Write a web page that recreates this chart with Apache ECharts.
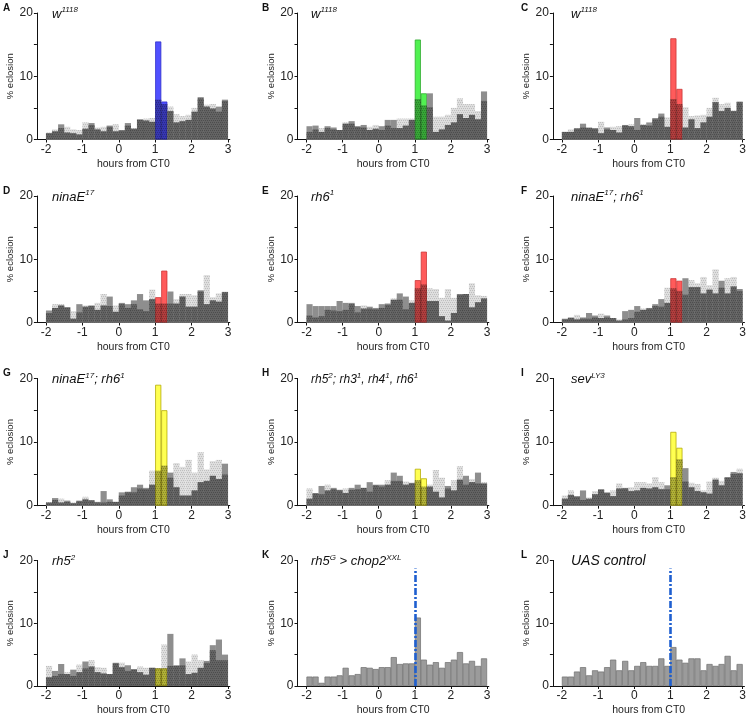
<!DOCTYPE html>
<html><head><meta charset="utf-8">
<script src="https://cdn.jsdelivr.net/npm/echarts@6/dist/echarts.min.js"></script>
<style>html,body{margin:0;padding:0;background:#fff}#c{width:749px;height:717px}</style>
</head><body><div id="c"></div>
<script>
// 10-min bins, start minute relative to CT0
const binStartMin = [-120,-110,-100,-90,-80,-70,-60,-50,-40,-30,-20,-10,0,10,20,30,40,50,60,70,80,90,100,110,120,130,140,150,160,170];
const xTickLabels = [-2,-1,0,1,2,3];
const yTickLabels = [0,10,20];
const pulseBins = [18,19];

const A_pulse = [1.0,1.3,2.4,1.1,1.0,0.8,1.7,2.6,1.6,1.3,2.2,1.3,1.5,2.6,1.7,3.2,3.0,2.8,15.5,6.0,4.5,2.7,2.9,3.1,4.4,6.7,5.2,4.9,5.2,6.3];
const A_ctrl  = [1.1,1.6,1.8,2.0,1.6,1.5,2.7,2.3,1.9,2.0,2.0,2.4,1.4,2.2,1.8,3.1,3.3,3.4,6.3,5.6,5.2,4.0,3.7,3.9,5.0,6.5,5.5,5.6,4.4,6.1];
const B_pulse = [2.1,2.2,1.2,2.1,1.9,1.5,2.5,2.9,2.1,2.3,1.5,1.7,2.1,3.1,3.1,1.8,2.2,3.1,15.8,7.3,7.3,1.2,1.6,2.3,2.7,4.0,3.4,3.9,3.2,7.6];
const B_ctrl  = [1.2,1.6,1.8,1.8,1.6,1.5,2.7,2.5,2.0,1.9,2.0,2.3,1.5,2.2,1.8,3.3,3.3,3.3,6.4,5.4,5.1,3.6,3.6,3.9,5.0,6.5,5.6,5.6,4.5,6.1];
const C_pulse = [1.2,1.2,1.8,2.5,1.9,1.8,1.0,1.9,1.5,1.1,2.3,2.1,3.4,2.3,2.7,3.4,4.1,2.0,16.0,8.0,1.9,3.2,1.8,2.7,3.6,5.9,4.5,5.0,4.5,6.0];
const C_ctrl  = [1.2,1.6,1.7,1.9,1.8,1.7,2.8,1.6,2.0,2.1,2.2,2.4,1.5,2.4,2.2,3.2,3.6,3.5,6.4,5.6,5.1,3.7,3.8,3.9,5.0,6.6,5.6,5.8,4.6,5.9];
const D_pulse = [1.9,2.3,2.7,2.4,0.6,2.9,2.5,2.7,2.0,2.7,4.1,1.7,3.1,2.9,3.5,4.5,3.5,3.7,4.0,8.2,4.9,3.0,4.1,2.5,2.5,5.1,2.9,3.5,3.3,4.8];
const D_ctrl  = [1.5,2.9,2.9,2.4,1.8,1.6,2.7,2.6,3.1,4.5,2.6,2.7,2.9,2.3,2.9,2.1,1.8,5.2,3.0,3.0,3.0,3.7,4.5,4.5,4.3,4.9,7.5,4.0,4.6,4.9];
const E_pulse = [2.9,2.6,2.6,2.6,2.6,3.4,3.1,3.1,2.6,2.2,2.5,2.3,2.9,3.0,3.6,4.6,4.1,3.1,6.7,11.2,3.4,3.4,1.0,0.3,1.5,4.5,4.5,2.4,3.2,3.8];
const E_ctrl  = [1.1,0.8,1.0,2.0,1.9,1.8,2.0,2.9,1.6,2.7,2.2,2.1,2.3,2.8,3.8,3.6,2.1,3.5,5.4,6.0,5.4,5.3,3.9,5.3,3.9,4.4,4.5,6.2,4.3,4.2];
const F_pulse = [0.6,0.8,0.5,0.8,1.5,1.1,0.7,1.1,0.7,0.3,1.8,2.0,2.6,2.0,2.3,2.9,3.7,3.1,7.0,6.6,7.0,5.6,5.6,4.6,5.2,4.6,6.6,4.6,5.7,5.3];
const F_ctrl  = [0.5,0.7,1.2,0.6,0.6,0.8,1.4,0.8,0.7,0.5,0.5,0.7,1.7,2.2,2.2,2.6,2.5,5.5,5.4,5.0,4.4,6.7,6.2,7.2,5.9,8.4,5.5,7.0,7.2,5.0];
const G_pulse = [0.5,1.2,0.5,0.8,0.4,0.8,1.0,0.9,0.6,2.3,1.0,0.6,2.1,2.2,2.9,3.3,2.8,3.3,19.0,15.0,5.2,2.9,1.6,1.6,2.4,3.7,3.9,4.7,4.2,6.6];
const G_ctrl  = [0.5,0.9,1.1,0.6,0.5,0.7,1.4,0.8,0.5,0.5,0.6,0.6,1.6,2.1,2.1,2.7,2.6,5.5,5.5,6.3,4.4,6.7,6.1,7.2,5.2,8.4,5.7,7.0,7.2,4.9];
const H_pulse = [1.1,2.0,3.1,2.4,2.8,2.5,2.0,2.8,3.3,2.8,3.7,3.3,3.3,3.3,5.2,4.7,3.3,3.6,5.8,4.3,3.0,2.2,1.3,3.1,2.4,4.1,4.7,3.7,5.2,3.5];
const H_ctrl  = [2.7,1.9,1.8,3.3,2.6,2.4,2.7,2.5,2.6,2.8,2.2,3.2,3.0,4.0,3.9,3.9,3.8,3.5,4.0,3.0,3.3,5.6,4.4,2.7,4.0,6.2,3.3,4.2,3.5,3.7];
const I_pulse = [1.1,1.7,1.5,2.4,1.1,1.8,2.6,2.1,1.5,2.7,2.8,2.3,2.4,2.8,2.7,2.9,2.6,3.2,11.6,9.1,5.9,2.9,2.3,2.1,1.9,4.1,3.2,4.5,5.3,5.1];
const I_ctrl  = [1.6,2.4,1.4,0.9,1.3,2.3,2.5,2.0,2.4,3.5,2.7,2.9,3.7,3.7,3.5,4.5,3.7,2.6,4.5,7.3,3.8,3.6,3.4,2.4,3.8,4.4,3.9,4.4,5.0,5.8];
const J_pulse = [1.4,2.4,3.5,1.9,2.6,2.2,3.9,3.1,2.2,2.0,1.9,3.7,3.0,3.3,2.7,2.2,1.8,2.9,2.8,2.8,8.3,3.3,4.4,1.9,2.1,2.9,4.0,6.5,7.4,5.0];
const J_ctrl  = [3.2,1.6,1.9,2.2,1.6,3.4,2.8,4.1,3.0,2.9,1.9,3.6,3.7,2.4,2.6,3.1,2.9,2.9,2.8,6.6,3.2,3.2,3.3,3.9,5.0,4.1,3.7,5.7,4.1,4.1];
const K_vals  = [1.5,1.5,0.5,1.5,1.5,1.7,2.9,1.7,1.9,3.0,2.9,2.7,3.0,3.0,4.6,3.5,3.6,3.6,10.9,4.2,3.4,3.8,2.9,3.8,4.2,5.4,3.6,4.0,3.2,4.4];
const L_vals  = [1.5,1.5,2.3,3.0,1.7,2.5,2.3,3.0,4.2,2.5,4.0,2.5,3.2,3.8,3.2,3.2,4.4,3.2,6.2,4.2,3.7,4.4,4.4,2.5,3.5,3.2,3.5,4.8,2.5,3.5];
const lightOnHour = 1;
const lightLineTop = 18.7;

const FONT = "'Liberation Sans', Arial, sans-serif";
const cols = [{left:36.9, pxh:36.4, lx:3, tx:52},{left:297.5, pxh:36.1, lx:262, tx:311},{left:552.9, pxh:36.26, lx:521, tx:571}];
const rows = [{top:13, h:126.5},{top:196, h:126.5},{top:378.4, h:127.3},{top:560.4, h:127.6}];

const sup = (t)=>'{s|'+t+'}', nm = (t)=>'{n|'+t+'}';
const panels = [
  {letter:'A', label:nm('w')+sup('1118'), pulse:A_pulse, ctrl:A_ctrl, color:'#4848ff', border:'#2c2cc8'},
  {letter:'B', label:nm('w')+sup('1118'), pulse:B_pulse, ctrl:B_ctrl, color:'#48f048', border:'#2aa82a'},
  {letter:'C', label:nm('w')+sup('1118'), pulse:C_pulse, ctrl:C_ctrl, color:'#ff5252', border:'#c83232'},
  {letter:'D', label:nm('ninaE')+sup('17'), pulse:D_pulse, ctrl:D_ctrl, color:'#ff5252', border:'#c83232'},
  {letter:'E', label:nm('rh6')+sup('1'), pulse:E_pulse, ctrl:E_ctrl, color:'#ff5252', border:'#c83232'},
  {letter:'F', label:nm('ninaE')+sup('17')+nm('; rh6')+sup('1'), pulse:F_pulse, ctrl:F_ctrl, color:'#ff5252', border:'#c83232'},
  {letter:'G', label:nm('ninaE')+sup('17')+nm('; rh6')+sup('1'), pulse:G_pulse, ctrl:G_ctrl, color:'#ffff48', border:'#b0a800'},
  {letter:'H', label:nm('rh5')+sup('2')+nm('; rh3')+sup('1')+nm(', rh4')+sup('1')+nm(', rh6')+sup('1'), pulse:H_pulse, ctrl:H_ctrl, color:'#ffff48', border:'#b0a800', fs:12},
  {letter:'I', label:nm('sev')+sup('LY3'), pulse:I_pulse, ctrl:I_ctrl, color:'#ffff48', border:'#b0a800'},
  {letter:'J', label:nm('rh5')+sup('2'), pulse:J_pulse, ctrl:J_ctrl, color:'#ffff48', border:'#b0a800'},
  {letter:'K', label:nm('rh5')+sup('G')+nm(' > chop2')+sup('XXL'), single:K_vals, line:true},
  {letter:'L', label:nm('UAS control'), single:L_vals, line:true, fs:14}
];

const stipple = {symbol:'rect', symbolSize:1, dashArrayX:[[1,1],[0,1,1,0]], dashArrayY:[1,1], color:'rgba(150,150,150,0.45)', rotation:0};
const hatch = {symbol:'rect', symbolSize:1, dashArrayX:[[1,1],[0,1,1,0]], dashArrayY:[1,1], color:'rgba(0,0,0,0.22)', rotation:0};

const centers = binStartMin.map(m => (m + 5) / 60);
const grid = [], xAxis = [], yAxis = [], series = [], graphic = [];

panels.forEach((p, i) => {
  const c = cols[i % 3], r = rows[Math.floor(i / 3)];
  grid.push({left:c.left, top:r.top, width:5.3*c.pxh, height:r.h, containLabel:false});
  xAxis.push({type:'value', gridIndex:i, min:-2.25, max:3.05,
    name:'hours from CT0', nameLocation:'middle', nameGap:19,
    nameTextStyle:{fontFamily:FONT, fontSize:10.5, color:'#222'},
    axisLine:{show:true, onZero:false, lineStyle:{color:'#111', width:1}},
    axisTick:{show:true, length:3, customValues:xTickLabels, lineStyle:{color:'#111'}},
    axisLabel:{customValues:xTickLabels, margin:4, fontFamily:FONT, fontSize:12, color:'#222'},
    splitLine:{show:false}});
  yAxis.push({type:'value', gridIndex:i, min:0, max:20, interval:5,
    name:'% eclosion', nameLocation:'middle', nameGap:21,
    nameTextStyle:{fontFamily:FONT, fontSize:9.5, color:'#222'},
    axisLine:{show:true, onZero:false, lineStyle:{color:'#111', width:1}},
    axisTick:{show:true, length:3, lineStyle:{color:'#111'}},
    axisLabel:{margin:4, fontFamily:FONT, fontSize:12, color:'#222',
      formatter:(v)=> yTickLabels.includes(v) ? String(v) : ''},
    splitLine:{show:false}});
  const bw = c.pxh / 6 + 0.1;
  if (p.single) {
    const s = {type:'bar', xAxisIndex:i, yAxisIndex:i, barWidth:bw, barGap:'-100%',
      data: p.single.map((v,k)=>[centers[k], v]),
      itemStyle:{color:'#9b9b9b', borderColor:'#6e6e6e', borderWidth:0.7}, silent:true};
    if (p.line) {
      s.markLine = {silent:true, symbol:['none','none'], label:{show:false},
        lineStyle:{color:'#1f5fd0', width:2.6, type:[7,2,2,2]},
        data:[[{coord:[lightOnHour,0]},{coord:[lightOnHour,lightLineTop]}]]};
    }
    series.push(s);
  } else {
    series.push({type:'bar', xAxisIndex:i, yAxisIndex:i, barWidth:bw, barGap:'-100%', silent:true,
      data: p.ctrl.map((v,k)=>[centers[k], v]),
      itemStyle:{color:'#dedede', decal:stipple}});
    series.push({type:'bar', xAxisIndex:i, yAxisIndex:i, barWidth:bw, barGap:'-100%', silent:true,
      data: p.pulse.map((v,k)=> pulseBins.includes(k)
        ? {value:[centers[k], v], itemStyle:{color:p.color, borderColor:p.border, borderWidth:0.8, opacity:0.95}}
        : [centers[k], v]),
      itemStyle:{color:'#8e8e8e'}});
    series.push({type:'bar', xAxisIndex:i, yAxisIndex:i, barWidth:bw, barGap:'-100%', silent:true,
      data: p.pulse.map((v,k)=>[centers[k], Math.min(v, p.ctrl[k])]),
      itemStyle:{color:'rgba(0,0,0,0.3)', decal:hatch}});
  }
  graphic.push({type:'text', x:c.lx, y:r.top-10, silent:true,
    style:{text:p.letter, fontFamily:FONT, fontWeight:'bold', fontSize:10, fill:'#111', verticalAlign:'top', align:'left'}});
  const fs = p.fs || 13;
  graphic.push({type:'text', x:c.tx, y:r.top-7, silent:true,
    style:{text:p.label, fill:'#111', verticalAlign:'top', align:'left',
      rich:{n:{fontFamily:FONT, fontStyle:'italic', fontSize:fs, lineHeight:16, fill:'#111'},
            s:{fontFamily:FONT, fontStyle:'italic', fontSize:8, lineHeight:13, verticalAlign:'top', fill:'#111'}}}});
});

const chart = echarts.init(document.getElementById('c'), null, {renderer:'canvas'});
chart.setOption({animation:false, backgroundColor:'#fff', grid, xAxis, yAxis, series, graphic});
</script></body></html>
